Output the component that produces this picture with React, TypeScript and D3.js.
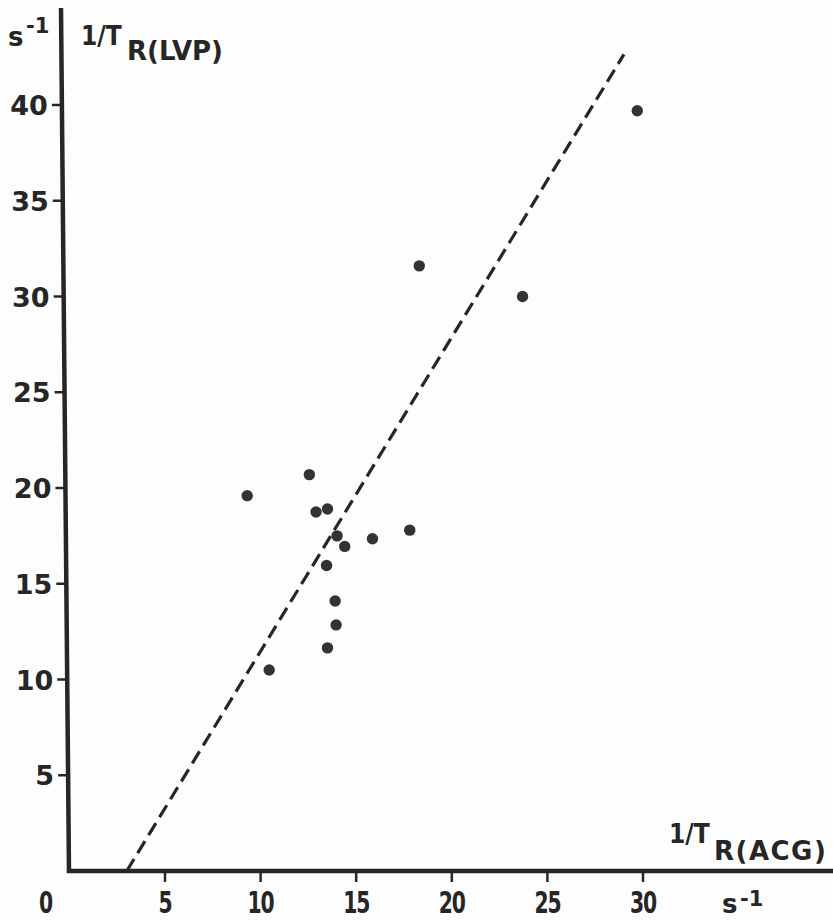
import React from "react";
import * as d3 from "d3";

// Relaxation rate from ACG (x) versus from LVP (y), in s^-1
const acgRate = [29.7, 18.3, 23.7, 12.55, 9.3, 12.9, 13.5, 14.0, 14.4, 15.85, 17.8, 13.45, 13.9, 13.95, 13.5, 10.45];
const lvpRate = [39.7, 31.6, 30.0, 20.7, 19.6, 18.75, 18.9, 17.5, 16.95, 17.35, 17.8, 15.95, 14.1, 12.85, 11.65, 10.5];

const xTicks = [0, 5, 10, 15, 20, 25, 30];
const yTicks = [5, 10, 15, 20, 25, 30, 35, 40];

// Regression line y = slope * x + intercept, drawn between these x values
const fitSlope = 1.64;
const fitIntercept = -4.92;
const fitRange = [3.0, 29.0];

const W = 833;
const H = 921;
const ink = "#262626";

export default function App() {
  const x = d3.scaleLinear().domain([0, 30]).range([69.4, 643]);
  const y = d3.scaleLinear().domain([0, 40]).range([871, 105]);

  // The vertical axis leans very slightly to the left toward the top
  const axisTop = 8;
  const axisBottom = 873;
  const axisX = (py: number) => 61 + ((py - axisTop) / (axisBottom - axisTop)) * 8;

  const fitLine = d3
    .line<number>()
    .x((d) => x(d))
    .y((d) => y(fitSlope * d + fitIntercept));

  const tickFont = "'DejaVu Sans', sans-serif";
  const condFont = "'DejaVu Sans Condensed', 'DejaVu Sans', sans-serif";

  return (
    <svg
      width={W}
      height={H}
      viewBox={`0 0 ${W} ${H}`}
      style={{ position: "absolute", left: 0, top: 0, background: "#fdfdfd" }}
    >
      <rect width={W} height={H} fill="#fdfdfd" />

      {/* axes */}
      <line x1={axisX(axisTop)} y1={axisTop} x2={axisX(axisBottom)} y2={axisBottom} stroke={ink} strokeWidth={4.5} />
      <line x1={axisX(axisBottom) - 2} y1={y(0)} x2={W} y2={y(0)} stroke={ink} strokeWidth={4.5} />

      {/* y ticks */}
      {yTicks.map((t) => {
        const py = y(t);
        const ax = axisX(py);
        return (
          <g key={`y${t}`}>
            <line x1={ax - 10} y1={py} x2={ax} y2={py} stroke={ink} strokeWidth={2.5} />
            <text
              x={ax - 14}
              y={py + 10}
              textAnchor="end"
              fontFamily={tickFont}
              fontWeight="bold"
              fontSize={27}
              fill={ink}
            >
              {t}
            </text>
          </g>
        );
      })}

      {/* x ticks, set in a narrow face */}
      {xTicks.map((t) => {
        const px = t === 0 ? 45.5 : x(t);
        return (
          <g key={`x${t}`}>
            {t > 0 && <line x1={px} y1={y(0)} x2={px} y2={y(0) + 11} stroke={ink} strokeWidth={2.5} />}
            <text
              transform={`translate(${px},913) scale(0.78,1.06)`}
              textAnchor="middle"
              fontFamily={condFont}
              fontWeight="bold"
              fontSize={29}
              letterSpacing={-1.5}
              fill={ink}
            >
              {t}
            </text>
          </g>
        );
      })}

      {/* regression line */}
      <path
        d={fitLine(fitRange) ?? ""}
        fill="none"
        stroke={ink}
        strokeWidth={3.2}
        strokeDasharray="14 7"
      />

      {/* observations */}
      {acgRate.map((v, i) => (
        <circle key={i} cx={x(v)} cy={y(lvpRate[i])} r={5.7} fill="#333" />
      ))}

      {/* y axis title */}
      <text x={8} y={46} fontFamily={tickFont} fontWeight="bold" fontSize={26} fill={ink}>
        s
      </text>
      <text x={26} y={33} fontFamily={tickFont} fontWeight="bold" fontSize={21} fill={ink}>
        -1
      </text>
      <text x={81} y={45} fontFamily={condFont} fontWeight="bold" fontSize={26} fill={ink}>
        1/T
      </text>
      <text x={127} y={60} fontFamily={tickFont} fontWeight="bold" fontSize={26} fill={ink}>
        R(LVP)
      </text>

      {/* x axis title */}
      <text x={669} y={843} fontFamily={condFont} fontWeight="bold" fontSize={26} fill={ink}>
        1/T
      </text>
      <text x={714} y={860} fontFamily={tickFont} fontWeight="bold" fontSize={26} letterSpacing={1.5} fill={ink}>
        R(ACG)
      </text>
      <text x={722} y={913} fontFamily={tickFont} fontWeight="bold" fontSize={26} fill={ink}>
        s
      </text>
      <text x={740} y={906} fontFamily={tickFont} fontWeight="bold" fontSize={21} fill={ink}>
        -1
      </text>
    </svg>
  );
}
